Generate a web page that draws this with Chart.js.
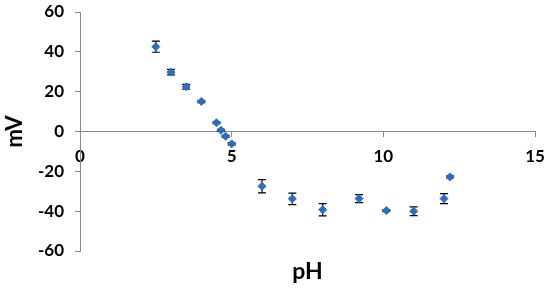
<!DOCTYPE html>
<html>
<head>
<meta charset="utf-8">
<script src="https://cdn.jsdelivr.net/npm/chart.js@4"></script>
<style>
  html, body { margin: 0; padding: 0; background: #fff; }
  #wrap { width: 550px; height: 288px; position: relative; }
</style>
</head>
<body>
<div id="wrap"><canvas id="phChart"></canvas></div>
<script>
// pH vs potential (mV) with error bars

const pH = [2.5, 3.0, 3.5, 4.0, 4.5, 4.65, 4.8, 5.0, 6.0, 7.0, 8.0, 9.2, 10.1, 11.0, 12.0, 12.2];
const mV = [42.6, 29.8, 22.5, 15.1, 4.4, 0.6, -2.4, -6.2, -27.5, -33.8, -39.3, -33.7, -39.7, -40.0, -33.7, -22.8];
const errors = [2.8, 1.4, 1.2, 0.6, 0.5, 0.5, 0.5, 0.5, 3.3, 2.9, 3.1, 2.0, 0.5, 2.2, 2.5, 0.5];

const xTicks = [0, 5, 10, 15];
const yTicks = [-60, -40, -20, 0, 20, 40, 60];

const xTitle = 'pH';
const yTitle = 'mV';

const markerColor = '#2a6ebd';
const axisColor = '#8a8a8a';
const labelFont = { family: 'Lato', size: 17, weight: 'bold' };

const points = pH.map(function(x, i) { return { x: x, y: mV[i] }; });

// Draws vertical error bars with caps, behind the markers
const errorBarPlugin = {
    id: 'errorBars',
    beforeDatasetsDraw: function(chart) {
        const ctx = chart.ctx;
        const xs = chart.scales.x;
        const ys = chart.scales.y;
        ctx.save();
        ctx.strokeStyle = '#000';
        ctx.lineWidth = 1.2;
        for (let i = 0; i < pH.length; i++) {
            const px = xs.getPixelForValue(pH[i]);
            const top = ys.getPixelForValue(mV[i] + errors[i]);
            const bot = ys.getPixelForValue(mV[i] - errors[i]);
            ctx.beginPath();
            ctx.moveTo(px, top);
            ctx.lineTo(px, bot);
            ctx.moveTo(px - 4, top);
            ctx.lineTo(px + 4, top);
            ctx.moveTo(px - 4, bot);
            ctx.lineTo(px + 4, bot);
            ctx.stroke();
        }
        ctx.restore();
    }
};

// x axis title sits at the bottom, under the plot area
const xTitlePlugin = {
    id: 'xTitle',
    afterDraw: function(chart) {
        const ctx = chart.ctx;
        const area = chart.chartArea;
        ctx.save();
        ctx.fillStyle = '#000';
        ctx.font = 'bold 23px Lato';
        ctx.textAlign = 'center';
        ctx.textBaseline = 'middle';
        ctx.fillText(xTitle, (area.left + area.right) / 2, 272);
        ctx.restore();
    }
};

new Chart(document.getElementById('phChart'), {
    type: 'scatter',
    data: {
        datasets: [{
            data: points,
            pointStyle: 'rectRot',
            pointRadius: 4,
            pointHoverRadius: 4,
            backgroundColor: markerColor,
            borderColor: markerColor,
            borderWidth: 1
        }]
    },
    options: {
        responsive: true,
        maintainAspectRatio: false,
        animation: false,
        layout: { padding: { top: 12, right: 15, bottom: 37, left: 0 } },
        plugins: {
            legend: { display: false },
            tooltip: { enabled: false }
        },
        scales: {
            x: {
                type: 'linear',
                position: { y: 0 },
                min: 0,
                max: 15,
                afterBuildTicks: function(scale) {
                    scale.ticks = xTicks.map(function(v) { return { value: v }; });
                },
                // the axis sits inside the plot, so it should not push the plot edges
                afterFit: function(scale) {
                    scale.height = 0;
                    scale.paddingTop = 0;
                    scale.paddingBottom = 0;
                    scale.paddingLeft = 0;
                    scale.paddingRight = 0;
                },
                border: { color: axisColor, width: 1 },
                grid: { drawOnChartArea: false, drawTicks: true, tickLength: 5, color: axisColor },
                ticks: { font: labelFont, color: '#000', padding: 10, maxRotation: 0 }
            },
            y: {
                type: 'linear',
                min: -60,
                max: 60,
                afterBuildTicks: function(scale) {
                    scale.ticks = yTicks.map(function(v) { return { value: v }; });
                },
                // fixed axis width; plot edges come from layout padding only
                afterFit: function(scale) {
                    scale.width = 80;
                    scale.paddingTop = 0;
                    scale.paddingBottom = 0;
                },
                border: { color: axisColor, width: 1 },
                grid: { drawOnChartArea: false, drawTicks: true, tickLength: 5, color: axisColor },
                ticks: { font: labelFont, color: '#000', padding: 11 },
                title: {
                    display: true,
                    text: yTitle,
                    color: '#000',
                    font: { family: 'Lato', size: 22, weight: 'bold' },
                    padding: { top: 2, bottom: 0 }
                }
            }
        }
    },
    plugins: [errorBarPlugin, xTitlePlugin]
});
</script>
</body>
</html>
